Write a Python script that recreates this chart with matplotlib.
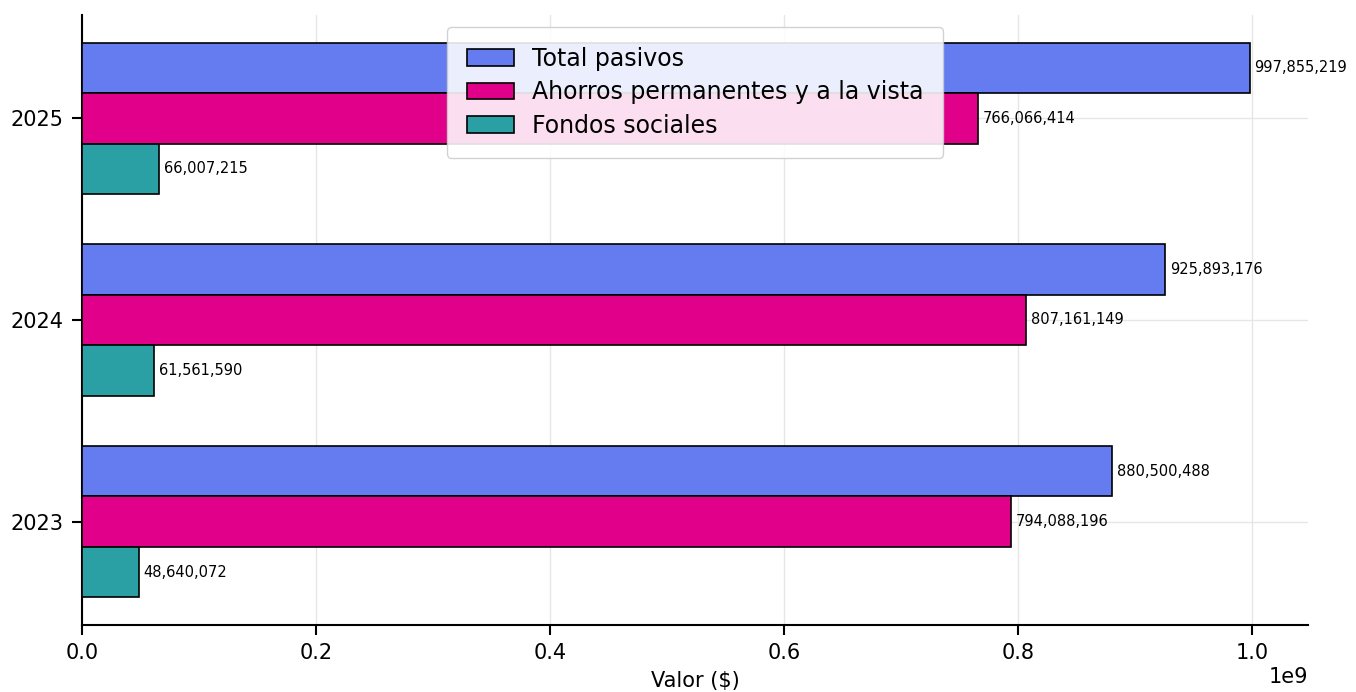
import matplotlib.pyplot as plt
import numpy as np

plt.rcParams['font.family'] = ['DejaVu Sans']

years = ['2023', '2024', '2025']
series_names = ['Total pasivos', 'Ahorros permanentes y a la vista', 'Fondos sociales']
total_pasivos = [880500488, 925893176, 997855219]
ahorros = [794088196, 807161149, 766066414]
fondos = [48640072, 61561590, 66007215]
colors = ['#647cf0', '#e0008a', '#2aa0a4']

fig = plt.figure(figsize=(13.56, 6.92), dpi=100)
ax = fig.add_axes([82 / 1356, 1 - 625 / 692, (1308 - 82) / 1356, (625 - 15) / 692])

y = np.arange(len(years))
h = 0.25
all_series = [total_pasivos, ahorros, fondos]
offsets = [h, 0, -h]
for vals, name, c, off in zip(all_series, series_names, colors, offsets):
    bars = ax.barh(y + off, vals, height=h, color=c, edgecolor='black', linewidth=1.2, label=name, zorder=3)
    for b, v in zip(bars, vals):
        ax.text(b.get_width() + max(total_pasivos) * 0.004, b.get_y() + b.get_height() / 2,
                f'{v:,}', va='center', ha='left', fontsize=10.5, zorder=4)

ax.set_yticks(y)
ax.set_yticklabels(years)
ax.set_xlim(0, max(total_pasivos) * 1.05)
ax.set_xlabel('Valor ($)', fontsize=15, labelpad=6)
ax.tick_params(axis='both', labelsize=15, length=7, width=1.5, pad=6)
ax.grid(True, color='#e6e6e6', linewidth=1, zorder=0)
for s in ['top', 'right']:
    ax.spines[s].set_visible(False)
for s in ['left', 'bottom']:
    ax.spines[s].set_linewidth(1.5)
ax.xaxis.get_offset_text().set_fontsize(15)

leg = ax.legend(loc='upper center', fontsize=17, framealpha=0.88, borderpad=0.85,
                labelspacing=0.4, handletextpad=0.75)

fig.savefig('out.png', dpi=100)
